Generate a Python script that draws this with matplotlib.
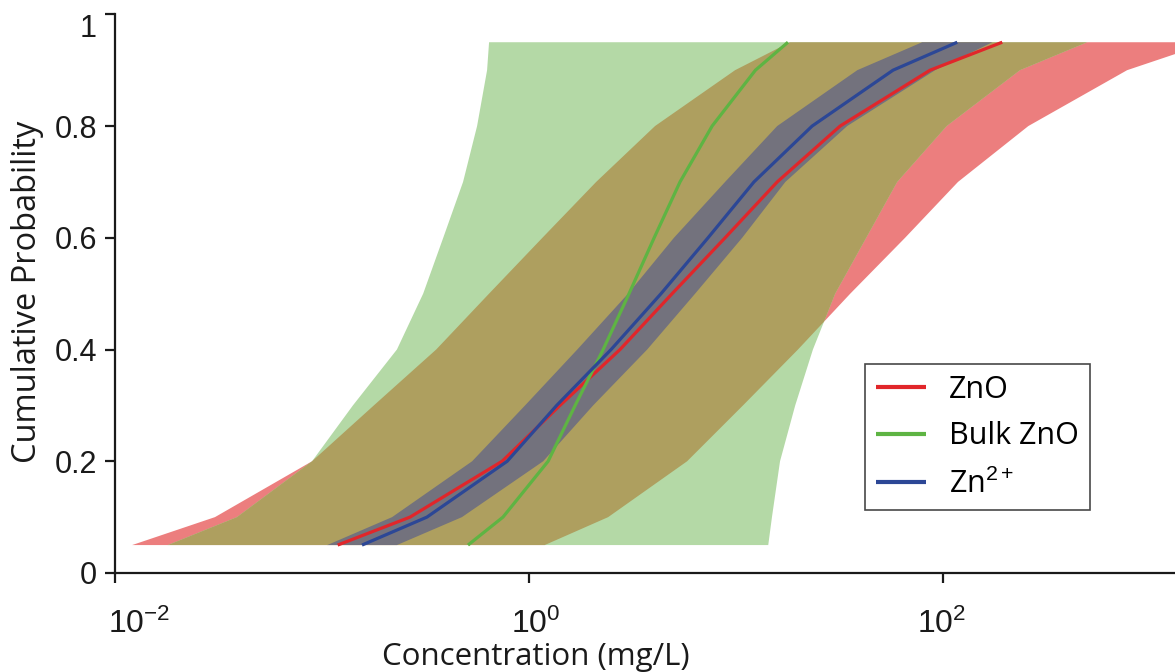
import matplotlib
matplotlib.use("Agg")
import matplotlib.pyplot as plt
import matplotlib.transforms as mtransforms
import numpy as np

# Cumulative probability levels
prob = [0.05, 0.1, 0.2, 0.3, 0.4, 0.5, 0.6, 0.7, 0.8, 0.9, 0.95]

# ZnO (nano) – median and band (mg/L)
zno_med = [0.119, 0.266, 0.741, 1.41, 2.75, 4.91, 8.85, 15.8, 31.8, 86.5, 193]
zno_lo = [0.0121, 0.0304, 0.0895, 0.178, 0.356, 0.641, 1.16, 2.11, 4.06, 9.89, 18.2]
zno_hi = [1.19, 2.41, 5.80, 10.8, 19.9, 35.6, 65.5, 118, 258, 774, 1950]

# Bulk ZnO
bulk_med = [0.507, 0.748, 1.236, 1.67, 2.28, 3.04, 4.02, 5.36, 7.66, 12.4, 17.8]
bulk_lo = [0.0180, 0.0388, 0.0895, 0.141, 0.230, 0.308, 0.385, 0.480, 0.561, 0.627, 0.641]
bulk_hi = [14.3, 14.9, 16.3, 19.3, 23.5, 30.1, 42.5, 60.0, 104, 235, 496]

# Zn2+
ion_med = [0.156, 0.321, 0.784, 1.36, 2.49, 4.34, 7.32, 12.2, 23.3, 57.3, 117]
ion_lo = [0.106, 0.218, 0.531, 0.957, 1.71, 3.01, 5.01, 8.85, 15.8, 38.5, 79.2]
ion_hi = [0.230, 0.474, 1.17, 2.04, 3.72, 6.34, 10.7, 17.3, 34.4, 91.5, 173]

series_labels = ["ZnO", "Bulk ZnO", r"Zn$^{2+}$"]
yticks = [0, 0.2, 0.4, 0.6, 0.8, 1]
yticklabels = ["0", "0.2", "0.4", "0.6", "0.8", "1"]
xticks = [1e-2, 1e0, 1e2]
xticklabels = [r"10$^{-2}$", r"10$^{0}$", r"10$^{2}$"]

plt.rcParams['mathtext.fontset'] = 'custom'
plt.rcParams['mathtext.rm'] = 'Liberation Sans'
plt.rcParams['mathtext.it'] = 'Liberation Sans:italic'
plt.rcParams['mathtext.bf'] = 'Liberation Sans:bold'

W, H = 1175, 672
fig = plt.figure(figsize=(W / 100, H / 100), dpi=100)
ax = fig.add_axes([115 / W, (H - 573) / H, 1 - 115 / W, (573 - 14.3) / H])

c_red = "#EC7E7E"
c_green = "#B4D9A6"
c_olive = "#AE9F5F"
c_grey = "#73727D"

def band_xy(lo, hi, p):
    xs = list(lo) + list(hi)[::-1]
    ys = list(p) + list(p)[::-1]
    return xs, ys

rx, ry = band_xy(zno_lo, zno_hi, prob)
gx, gy = band_xy(bulk_lo, bulk_hi, prob)
bx, by = band_xy(ion_lo, ion_hi, prob)

red_patch = ax.fill(rx, ry, color=c_red, lw=0, zorder=1)[0]
ax.fill(gx, gy, color=c_green, lw=0, zorder=1.1)
olive = ax.fill(gx, gy, color=c_olive, lw=0, zorder=1.2)[0]
olive.set_clip_path(red_patch)
ax.fill(bx, by, color=c_grey, lw=0, zorder=1.3)

lw = 2.3
l1, = ax.plot(zno_med, prob, color="#E1262A", lw=lw, zorder=3, solid_capstyle='butt')
l2, = ax.plot(bulk_med, prob, color="#5EB443", lw=lw, zorder=3, solid_capstyle='butt')
l3, = ax.plot(ion_med, prob, color="#2C4796", lw=lw, zorder=3, solid_capstyle='butt')

ax.set_xscale('log')
ax.set_xlim(1e-2, 10 ** 3.12)
ax.set_ylim(0, 1)
ax.set_xticks(xticks)
ax.set_xticklabels([])
ax.xaxis.set_minor_locator(matplotlib.ticker.NullLocator())
ax.set_yticks(yticks)
ax.set_yticklabels(yticklabels)

for s in ['top', 'right']:
    ax.spines[s].set_visible(False)
for s in ['left', 'bottom']:
    ax.spines[s].set_linewidth(1.6)
    ax.spines[s].set_color('#1a1a1a')
ax.tick_params(direction='out', length=7, width=1.6, colors='#1a1a1a',
               labelsize=22, pad=6)
for t in ax.get_yticklabels():
    t.set_fontfamily('Liberation Sans')
ax.get_yticklabels()[-1].set_va('top')

# x tick labels, MATLAB-style placement ("10" roughly centred, exponent hanging right)
base = mtransforms.blended_transform_factory(ax.transData, ax.transAxes)
xoffsets = [-7, -18, -26]
for xv, lab, dx in zip(xticks, xticklabels, xoffsets):
    tr = mtransforms.offset_copy(base, fig=fig, x=dx, y=-60, units='dots')
    ax.text(xv, 0, lab, transform=tr, ha='left', va='baseline', fontsize=23,
            family='Liberation Sans', color='#1a1a1a', clip_on=False)

ax.set_xlabel("Concentration (mg/L)", fontsize=22.5, family='Open Sans', color='#1a1a1a')
ax.xaxis.set_label_coords((536 - 115) / 1060, (573 - 642) / 558.7)
ax.set_ylabel("Cumulative Probability", fontsize=23.5, family='Open Sans', color='#1a1a1a')
ax.yaxis.set_label_coords((44 - 115) / 1060, (573 - 292) / 558.7)

leg = ax.legend([l1, l2, l3], series_labels, loc='upper left',
                bbox_to_anchor=(865 / W, 1 - 364 / H), bbox_transform=fig.transFigure,
                prop={'family': 'Open Sans', 'size': 22}, frameon=True, fancybox=False,
                handlelength=1.65, handletextpad=0.75, labelspacing=0.55,
                borderpad=0.35, borderaxespad=0)
leg.get_frame().set_edgecolor('#1a1a1a')
leg.get_frame().set_linewidth(1.2)
for ln in leg.get_lines():
    ln.set_linewidth(3)

fig.savefig("out.png", dpi=100)
